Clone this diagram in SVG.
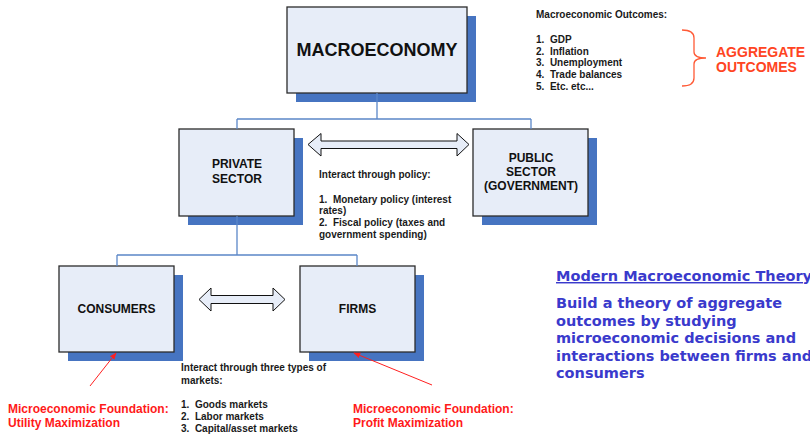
<svg xmlns="http://www.w3.org/2000/svg" width="810" height="438" viewBox="0 0 810 438">
<defs>
<style>
.box{fill:#e7edf8;stroke:#2b2b2b;stroke-width:1.3}
.sh{fill:#4674c1}
.lbl{font-family:"Liberation Sans",Arial,sans-serif;font-weight:bold;font-size:12px;fill:#111;text-anchor:middle}
.sm{font-family:"Liberation Sans",Arial,sans-serif;font-weight:bold;font-size:10px;fill:#1a1a1a}
.red{font-family:"Liberation Sans",Arial,sans-serif;font-weight:bold;font-size:12px;fill:#ff1a1a}
.agg{font-family:"Liberation Sans",Arial,sans-serif;font-weight:bold;font-size:14px;fill:#ff4422}
.blue{font-family:"DejaVu Sans",Verdana,sans-serif;font-weight:bold;font-size:14.5px;fill:#3a3acc}
.conn{stroke:#5b87c8;stroke-width:1.3;fill:none}
.dbl{fill:#e7edf8;stroke:#111;stroke-width:1}
.rarr{stroke:#ff2020;stroke-width:1;fill:none}
</style>
<marker id="rh" viewBox="0 0 10 10" refX="9" refY="5" markerWidth="7" markerHeight="7" orient="auto" markerUnits="userSpaceOnUse">
<path d="M0,1 L10,5 L0,9 z" fill="#ff2020"/>
</marker>
</defs>
<rect width="810" height="438" fill="#ffffff"/>

<g id="macroeconomy">
<rect class="sh" x="296" y="16" width="180" height="86"/>
<rect class="box" x="287" y="7" width="180" height="86"/>
<text class="lbl" x="377" y="56" style="font-size:18px">MACROECONOMY</text>
</g>

<g id="private-sector">
<rect class="sh" x="188" y="138" width="115" height="87"/>
<rect class="box" x="179" y="129" width="115" height="87"/>
<text class="lbl" x="237" y="168">PRIVATE</text>
<text class="lbl" x="237" y="183">SECTOR</text>
</g>

<g id="public-sector">
<rect class="sh" x="482" y="138" width="115" height="87"/>
<rect class="box" x="473" y="129" width="115" height="87"/>
<text class="lbl" x="531" y="162">PUBLIC</text>
<text class="lbl" x="531" y="176">SECTOR</text>
<text class="lbl" x="531" y="190">(GOVERNMENT)</text>
</g>

<g id="consumers">
<rect class="sh" x="68" y="275" width="115" height="86"/>
<rect class="box" x="59" y="266" width="115" height="86"/>
<text class="lbl" x="116.5" y="313">CONSUMERS</text>
</g>

<g id="firms">
<rect class="sh" x="309" y="275" width="115" height="86"/>
<rect class="box" x="300" y="266" width="115" height="86"/>
<text class="lbl" x="357.5" y="313">FIRMS</text>
</g>

<g id="connectors">
<path class="conn" d="M377 93 V119 M237 119 H531 M237 119 V129 M531 119 V129"/>
<path class="conn" d="M237 216 V255 M117 255 H357 M117 255 V266 M357 255 V266"/>
<polygon class="dbl" points="308,144.5 321,133.5 321,141 457,141 457,133.5 469,144.5 457,156 457,148.5 321,148.5 321,156"/>
<polygon class="dbl" points="199,299.5 211,288 211,295.5 273,295.5 273,288 285,299.5 273,311 273,303.5 211,303.5 211,311"/>
<line class="rarr" x1="90" y1="386" x2="116" y2="353" marker-end="url(#rh)"/>
<line class="rarr" x1="432" y1="385" x2="354" y2="353" marker-end="url(#rh)"/>
</g>

<g id="policy-note">
<text class="sm" x="319" y="177.5">Interact through policy:</text>
<text class="sm" x="319" y="202.5" xml:space="preserve">1.  Monetary policy (interest</text>
<text class="sm" x="319" y="214">rates)</text>
<text class="sm" x="319" y="225.5" xml:space="preserve">2.  Fiscal policy (taxes and</text>
<text class="sm" x="319" y="237.5">government spending)</text>
</g>

<g id="markets-note">
<text class="sm" x="181" y="371">Interact through three types of</text>
<text class="sm" x="181" y="383.5">markets:</text>
<text class="sm" x="181" y="407.5" xml:space="preserve">1.  Goods markets</text>
<text class="sm" x="181" y="419.5" xml:space="preserve">2.  Labor markets</text>
<text class="sm" x="181" y="432" xml:space="preserve">3.  Capital/asset markets</text>
</g>

<g id="outcomes">
<text class="sm" x="536" y="17.5">Macroeconomic Outcomes:</text>
<text class="sm" x="536" y="42.5" xml:space="preserve">1.  GDP</text>
<text class="sm" x="536" y="54.5" xml:space="preserve">2.  Inflation</text>
<text class="sm" x="536" y="66" xml:space="preserve">3.  Unemployment</text>
<text class="sm" x="536" y="78" xml:space="preserve">4.  Trade balances</text>
<text class="sm" x="536" y="90" xml:space="preserve">5.  Etc. etc...</text>
<path d="M682 30 Q694 30 694 38 V52 Q694 58 706 58 Q694 58 694 64 V78 Q694 86 682 86" fill="none" stroke="#ff5a36" stroke-width="1.3"/>
<text class="agg" x="716" y="57">AGGREGATE</text>
<text class="agg" x="716" y="71.5">OUTCOMES</text>
</g>

<g id="foundations">
<text class="red" x="8" y="413">Microeconomic Foundation:</text>
<text class="red" x="8" y="427">Utility Maximization</text>
<text class="red" x="353" y="413">Microeconomic Foundation:</text>
<text class="red" x="353" y="427">Profit Maximization</text>
</g>

<g id="theory">
<text class="blue" x="556" y="281" text-decoration="underline">Modern Macroeconomic Theory</text>
<text class="blue" x="556" y="308">Build a theory of aggregate</text>
<text class="blue" x="556" y="325.5">outcomes by studying</text>
<text class="blue" x="556" y="343">microeconomic decisions and</text>
<text class="blue" x="556" y="360.5">interactions between firms and</text>
<text class="blue" x="556" y="378">consumers</text>
</g>
</svg>
